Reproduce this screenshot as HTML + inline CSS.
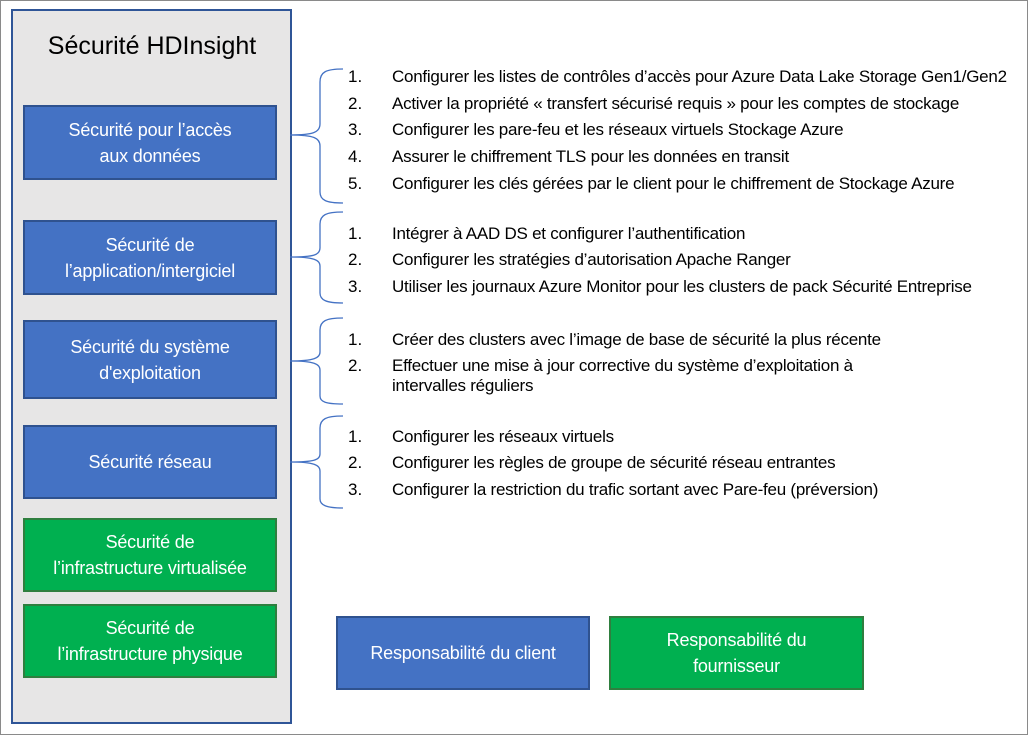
<!DOCTYPE html>
<html><head><meta charset="utf-8"><style>
body{margin:0;width:1028px;height:735px;background:#fff;position:relative;overflow:hidden;font-family:"Liberation Sans",sans-serif;}
.frame{position:absolute;left:0;top:0;width:1026px;height:733px;border:1px solid #8a8a8a;}
.panel{position:absolute;left:11px;top:9px;width:277px;height:711px;background:#e7e6e6;border:2px solid #2f5597;}
.title{position:absolute;left:12px;top:32px;width:280px;text-align:center;font-size:25px;color:#000;}
.box{position:absolute;display:flex;align-items:center;justify-content:center;text-align:center;color:#fff;font-size:18px;line-height:26px;box-sizing:border-box;border:2px solid #2f528f;letter-spacing:-0.2px;}
.b{background:#4472c4;}
.g{background:#00b050;border-color:#2f7f3f;}
.t{position:absolute;font-size:17px;color:#000;white-space:nowrap;letter-spacing:-0.25px;}
.n{position:absolute;font-size:17px;color:#000;}
</style></head><body>
<div class="frame"></div>
<div class="panel"></div>
<div class="title">Sécurité HDInsight</div>
<div class="box b" style="left:23px;top:105px;width:254px;height:75px;">Sécurité pour l’accès<br>aux données</div>
<div class="box b" style="left:23px;top:220px;width:254px;height:75px;">Sécurité de<br>l’application/intergiciel</div>
<div class="box b" style="left:23px;top:320px;width:254px;height:79px;">Sécurité du système<br>d'exploitation</div>
<div class="box b" style="left:23px;top:425px;width:254px;height:74px;">Sécurité réseau</div>
<div class="box g" style="left:23px;top:518px;width:254px;height:74px;">Sécurité de<br>l’infrastructure virtualisée</div>
<div class="box g" style="left:23px;top:604px;width:254px;height:74px;">Sécurité de<br>l’infrastructure physique</div>
<div class="box b" style="left:336px;top:616px;width:254px;height:74px;">Responsabilité du client</div>
<div class="box g" style="left:609px;top:616px;width:255px;height:74px;">Responsabilité du<br>fournisseur</div>
<svg width="1028" height="735" style="position:absolute;left:0;top:0" fill="none" stroke="#4472c4" stroke-width="1.3">
<path d="M343,69 C326,69 320,72 320,82 L320,124 C320,132 314,135 290,135 C314,135 320,138 320,146 L320,192 C320,200 326,203 343,203"/>
<path d="M343,212 C326,212 320,215 320,224 L320,248 C320,255 314,257 290,257 C314,257 320,260 320,266 L320,293 C320,300 326,303 343,303"/>
<path d="M343,318 C326,318 320,321 320,330 L320,352 C320,358 314,361 290,361 C314,361 320,364 320,370 L320,396 C320,402 326,404 343,404"/>
<path d="M343,416 C326,416 320,419 320,428 L320,454 C320,460 314,462 290,462 C314,462 320,465 320,471 L320,499 C320,505 326,508 343,508"/>
</svg>
<div id="items"></div>
<script>
var L=[[67,"1.","Configurer les listes de contrôles d’accès pour Azure Data Lake Storage Gen1/Gen2"],
[94,"2.","Activer la propriété « transfert sécurisé requis » pour les comptes de stockage"],
[120,"3.","Configurer les pare-feu et les réseaux virtuels Stockage Azure"],
[147,"4.","Assurer le chiffrement TLS pour les données en transit"],
[174,"5.","Configurer les clés gérées par le client pour le chiffrement de Stockage Azure"],
[224,"1.","Intégrer à AAD DS et configurer l’authentification"],
[250,"2.","Configurer les stratégies d’autorisation Apache Ranger"],
[277,"3.","Utiliser les journaux Azure Monitor pour les clusters de pack Sécurité Entreprise"],
[330,"1.","Créer des clusters avec l’image de base de sécurité la plus récente"],
[356,"2.","Effectuer une mise à jour corrective du système d’exploitation à"],
[376,"","intervalles réguliers"],
[427,"1.","Configurer les réseaux virtuels"],
[453,"2.","Configurer les règles de groupe de sécurité réseau entrantes"],
[480,"3.","Configurer la restriction du trafic sortant avec Pare-feu (préversion)"]];
var h="";L.forEach(function(a){h+='<div class="n" style="left:348px;top:'+a[0]+'px">'+a[1]+'</div><div class="t" style="left:392px;top:'+a[0]+'px">'+a[2]+'</div>';});
document.getElementById("items").innerHTML=h;
</script>
</body></html>
